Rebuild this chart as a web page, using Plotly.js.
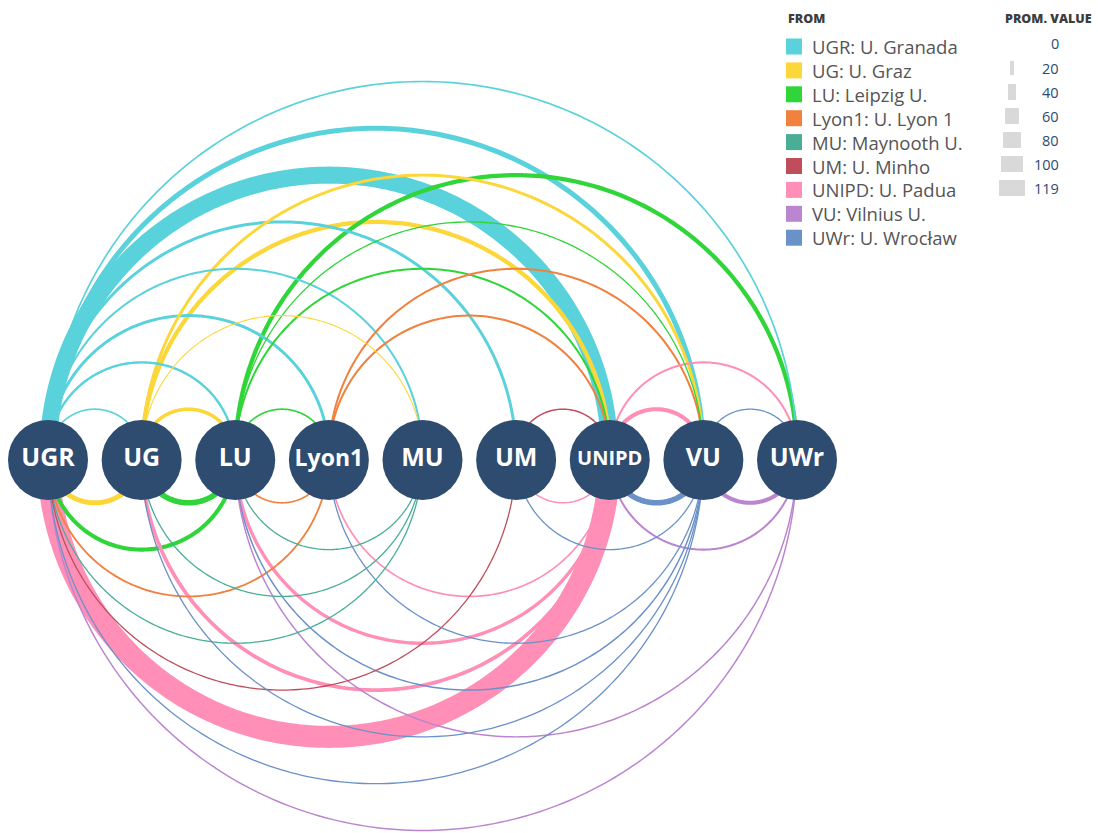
<!DOCTYPE html>
<html>
<head>
<meta charset="utf-8">
<script src="https://cdn.plot.ly/plotly-3.0.1.min.js"></script>
<style>
  html, body { margin: 0; padding: 0; background: #ffffff; }
  #chart { width: 1098px; height: 833px; }
</style>
</head>
<body>
<div id="chart"></div>
<script>
// ---------------- DATA ----------------
const nodes = ['UGR', 'UG', 'LU', 'Lyon1', 'MU', 'UM', 'UNIPD', 'VU', 'UWr'];
const nodeNames = ['U. Granada', 'U. Graz', 'Leipzig U.', 'U. Lyon 1', 'Maynooth U.',
                   'U. Minho', 'U. Padua', 'Vilnius U.', 'U. Wrocław'];

// links: from -> to with prominence value
const edgeFrom = [
  'UGR','UGR','UGR','UGR','UGR','UGR','UGR','UGR',
  'UG','UG','UG','UG',
  'LU','LU','LU','LU',
  'Lyon1','Lyon1',
  'UM',
  'UNIPD','UNIPD',
  'VU',
  'UG',
  'LU','LU',
  'Lyon1','Lyon1',
  'MU','MU','MU',
  'UM',
  'UNIPD','UNIPD','UNIPD','UNIPD','UNIPD',
  'VU','VU','VU','VU','VU','VU',
  'UWr','UWr','UWr','UWr'
];
const edgeTo = [
  'UG','LU','Lyon1','MU','UM','UNIPD','VU','UWr',
  'LU','MU','UNIPD','VU',
  'Lyon1','UNIPD','VU','UWr',
  'UNIPD','VU',
  'UNIPD',
  'VU','UWr',
  'UWr',
  'UGR',
  'UGR','UG',
  'UGR','LU',
  'UGR','UG','LU',
  'UGR',
  'UGR','UG','LU','Lyon1','UM',
  'UGR','UG','LU','Lyon1','UM','UNIPD',
  'UGR','LU','UNIPD','VU'
];
const edgeValue = [
  9, 13, 16, 11, 16, 92, 27, 9,
  19, 6, 23, 16,
  9, 11, 7, 23,
  11, 11,
  8,
  22, 11,
  7,
  27,
  22, 30,
  10, 9,
  7, 7, 7,
  7,
  119, 20, 18, 9, 8,
  7, 7, 8, 7, 7, 30,
  8, 8, 11, 22
];

const legendValues = [0, 20, 40, 60, 80, 100, 119];

// ---------------- STYLE ----------------
const legendColor = {
  UGR: '#59D2DB', UG: '#FCD73A', LU: '#30D53A', Lyon1: '#F0813F', MU: '#4AAE97',
  UM: '#BF4D5A', UNIPD: '#FF8FB6', VU: '#BB85CF', UWr: '#6B91C9'
};
// the arcs of the original use VU/UWr colours swapped relative to its legend
const arcColor = Object.assign({}, legendColor, { VU: '#6B91C9', UWr: '#BB85CF' });
const NODE_FILL = '#2E4B70';
const PX_PER_VALUE = 0.185;

const W = 1098, H = 833;
const idx = n => nodes.indexOf(n);

// ---------------- ARCS ----------------
const order = edgeValue.map((v, i) => i).sort((a, b) => edgeValue[b] - edgeValue[a]);
const traces = [];
order.forEach(i => {
  const a = idx(edgeFrom[i]), b = idx(edgeTo[i]);
  const c = (a + b) / 2, r = Math.abs(b - a) / 2;
  const sign = a < b ? 1 : -1;   // left->right above, right->left below
  const xs = [], ys = [];
  const N = 180;
  for (let k = 0; k <= N; k++) {
    const t = Math.PI * k / N;
    xs.push(c - r * Math.cos(t));
    ys.push(sign * r * Math.sin(t));
  }
  traces.push({
    type: 'scatter', mode: 'lines', x: xs, y: ys,
    line: { color: arcColor[edgeFrom[i]], width: Math.max(1, edgeValue[i] * PX_PER_VALUE),
            shape: 'linear', simplify: false },
    hoverinfo: 'skip', showlegend: false, xaxis: 'x', yaxis: 'y'
  });
});

// ---------------- NODES ----------------
const labelSize = { Lyon1: 23, UNIPD: 20 };
traces.push({
  type: 'scatter', mode: 'markers+text',
  x: nodes.map((n, i) => i), y: nodes.map(() => -0.042),
  text: nodes,
  textposition: 'middle center',
  textfont: { family: 'Open Sans, sans-serif', color: '#ffffff', weight: 700,
              size: nodes.map(n => labelSize[n] || 25) },
  marker: { size: 80, color: NODE_FILL, line: { width: 0 } },
  hoverinfo: 'skip', showlegend: false, cliponaxis: false, xaxis: 'x', yaxis: 'y'
});

// ---------------- VALUE LEGEND BARS ----------------
traces.push({
  type: 'bar', orientation: 'h',
  x: legendValues, base: legendValues.map(v => -v / 2),
  y: legendValues.map((v, i) => i),
  width: legendValues.map(v => Math.min(0.64, 0.36 + v * 0.01)),
  marker: { color: '#D9D9D9', line: { width: 0 } },
  hoverinfo: 'skip', showlegend: false, xaxis: 'x2', yaxis: 'y2'
});

// ---------------- LAYOUT ----------------
const pxPerUnit = (797 - 48) / 8;
const x0 = -48 / pxPerUnit, x1 = (W - 48) / pxPerUnit;
const yTop = 456 / pxPerUnit, yBot = -(H - 456) / pxPerUnit;

const annotations = [];
const shapes = [];
const font = 'Open Sans, sans-serif';
annotations.push({ xref: 'paper', yref: 'paper', x: 786 / W, y: 1 - 19 / H, xanchor: 'left', yanchor: 'middle',
  text: 'FROM', showarrow: false, font: { family: font, size: 12.5, color: '#3d3d3d', weight: 800 } });
annotations.push({ xref: 'paper', yref: 'paper', x: 1094 / W, y: 1 - 19 / H, xanchor: 'right', yanchor: 'middle',
  text: 'PROM. VALUE', showarrow: false, font: { family: font, size: 12.5, color: '#3d3d3d', weight: 800 } });

nodes.forEach((n, i) => {
  const cy = 46.5 + 23.9 * i;
  shapes.push({ type: 'rect', xref: 'paper', yref: 'paper',
    x0: 786 / W, x1: 802 / W, y0: 1 - (cy - 8) / H, y1: 1 - (cy + 8) / H,
    fillcolor: legendColor[n], line: { width: 0 } });
  annotations.push({ xref: 'paper', yref: 'paper', x: 810 / W, y: 1 - cy / H, xanchor: 'left', yanchor: 'middle',
    text: n + ': ' + nodeNames[i], showarrow: false, font: { family: font, size: 18.5, color: '#555555' } });
});
legendValues.forEach((v, i) => {
  annotations.push({ xref: 'paper', yref: 'paper', x: 1061 / W, y: 1 - (44 + 24.1 * i) / H,
    xanchor: 'right', yanchor: 'middle', text: String(v), showarrow: false,
    font: { family: font, size: 14.5, color: '#2E4B70' } });
});

const layout = {
  width: W, height: H,
  margin: { l: 0, r: 0, t: 0, b: 0, pad: 0 },
  paper_bgcolor: '#ffffff', plot_bgcolor: 'rgba(0,0,0,0)',
  showlegend: false,
  xaxis: { domain: [0, 1], range: [x0, x1], visible: false, fixedrange: true },
  yaxis: { domain: [0, 1], range: [yBot, yTop], visible: false, fixedrange: true },
  xaxis2: { domain: [999 / W, 1025 / W], range: [-59.5, 59.5], visible: false, fixedrange: true, anchor: 'y2' },
  yaxis2: { domain: [1 - 200 / H, 1 - 32 / H], range: [6.5, -0.5], visible: false, fixedrange: true, anchor: 'x2' },
  annotations: annotations,
  shapes: shapes,
  bargap: 0
};

Plotly.newPlot('chart', traces, layout, { displayModeBar: false, staticPlot: true });
</script>
</body>
</html>
